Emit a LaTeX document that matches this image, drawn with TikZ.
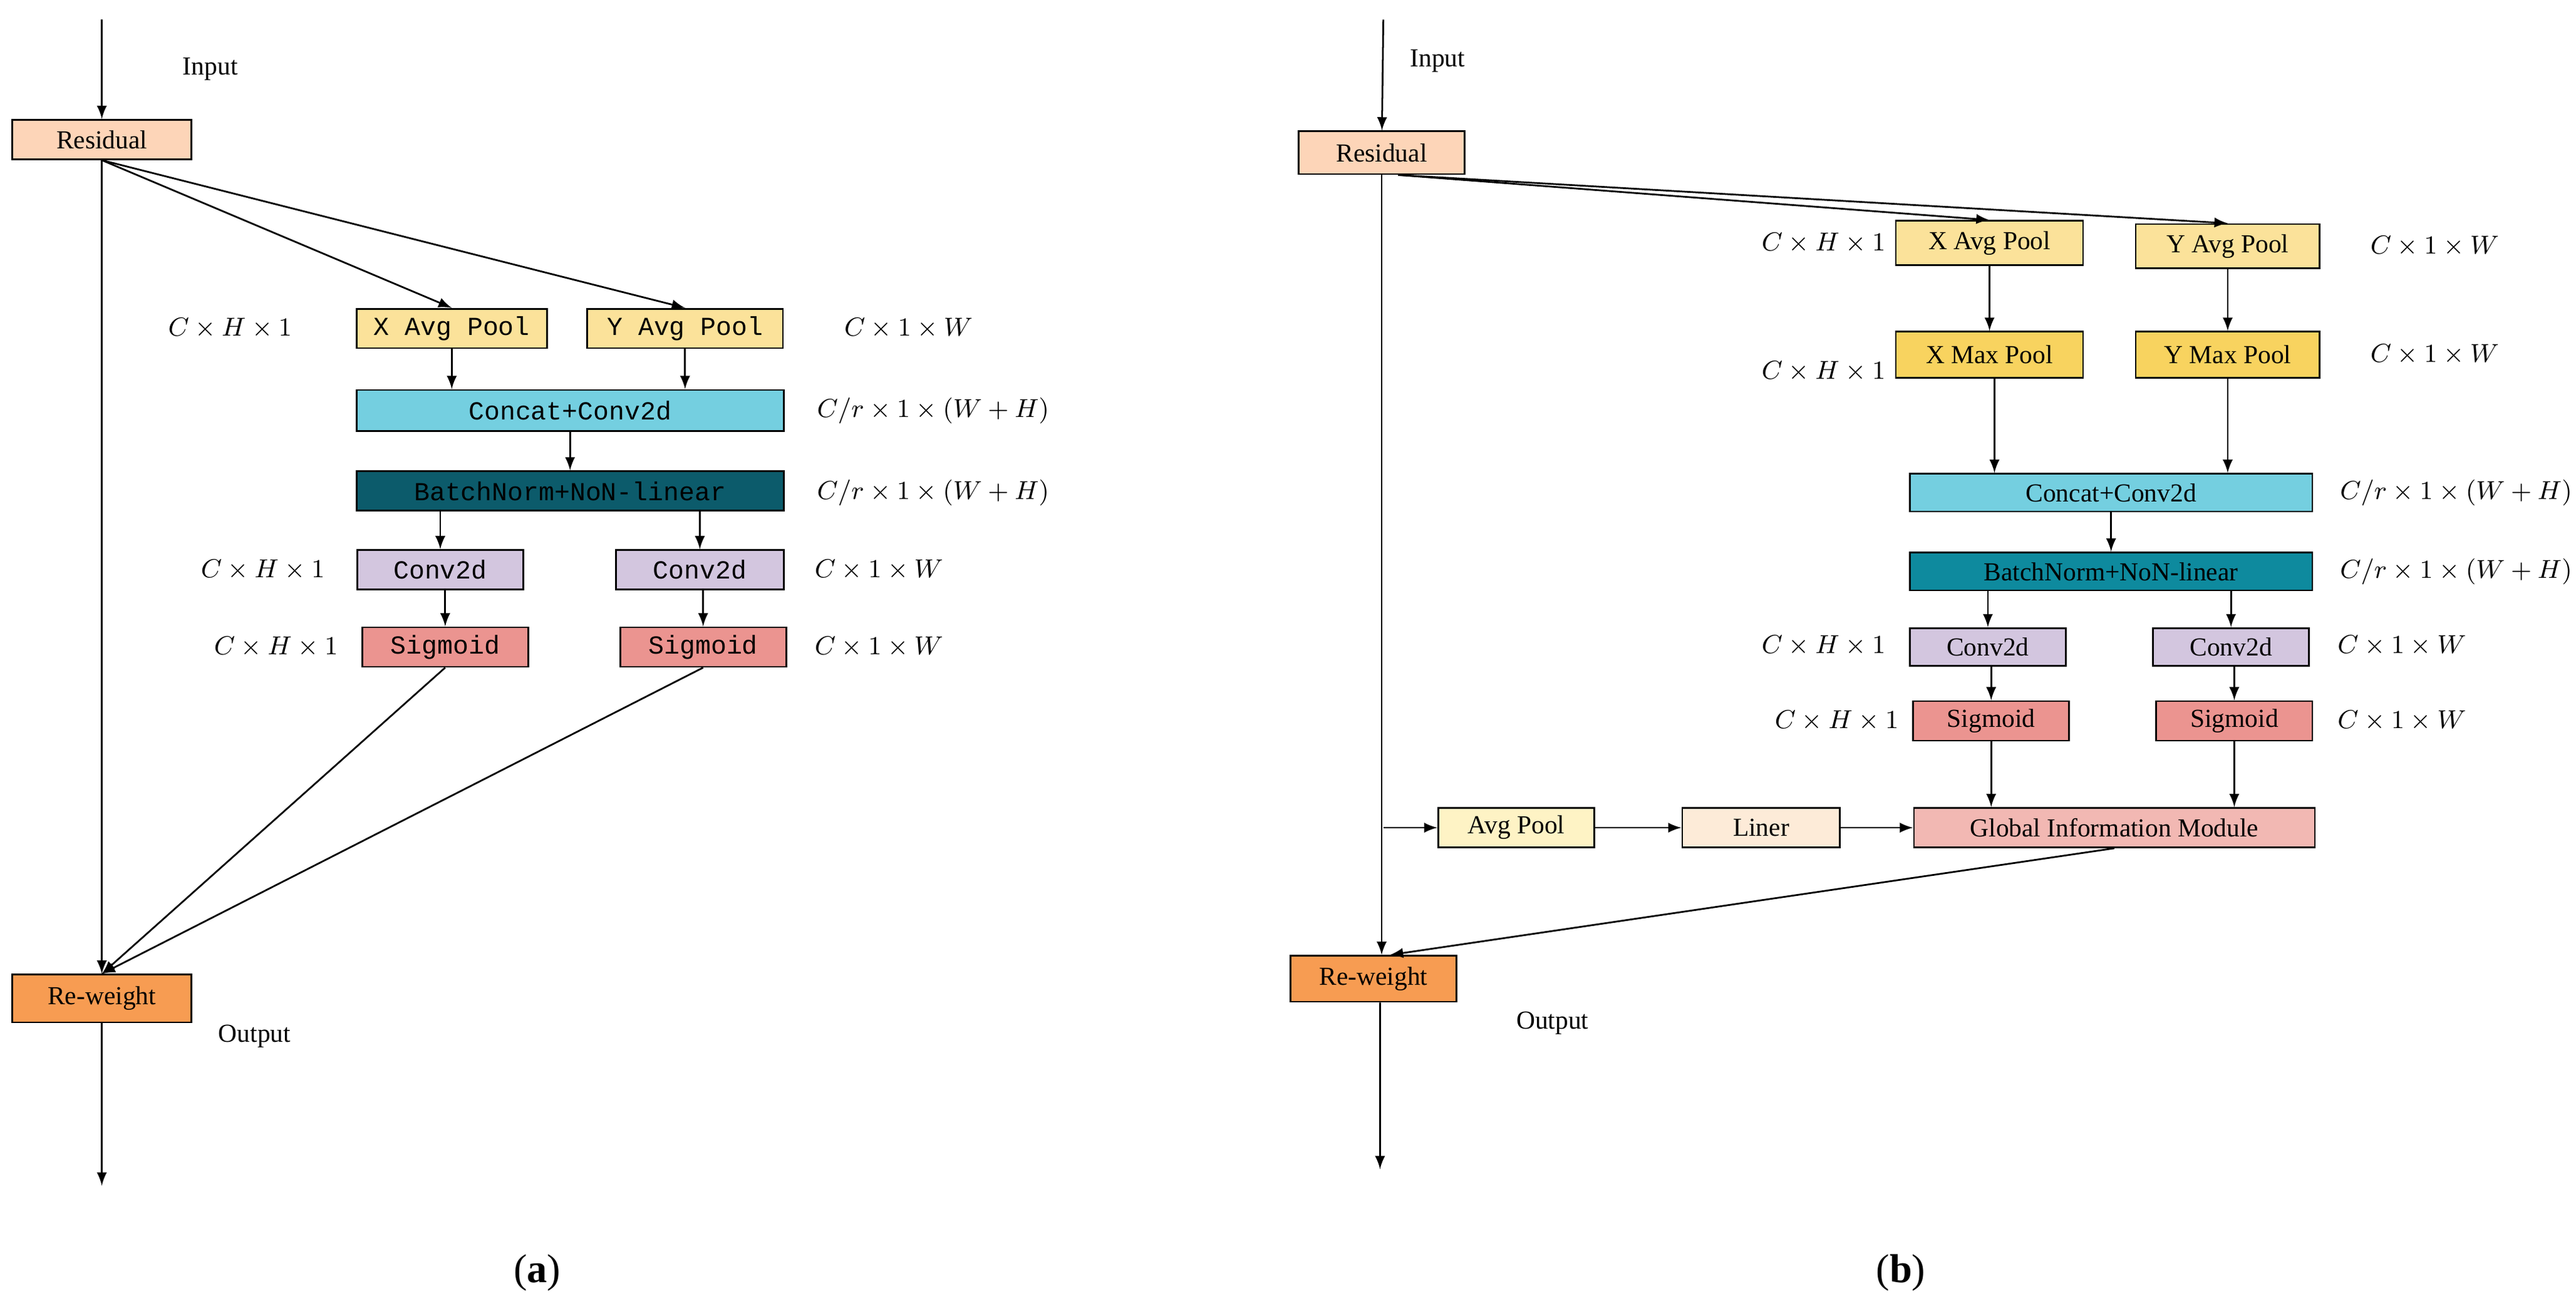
\documentclass[tikz,border=0pt]{standalone}
\usepackage{fontspec}
\setmainfont{Liberation Serif}
\newfontfamily\monof{Liberation Mono}
\begin{document}
\begin{tikzpicture}[x=0.02cm,y=-0.02cm,
 box/.style={draw=black,line width=0.6pt,minimum height=0.48cm,inner sep=1pt,font=\fontsize{9}{10}\selectfont},
 mono/.style={font=\monof\fontsize{9}{10}\selectfont},
 lab/.style={font=\fontsize{9}{10}\selectfont},
 arr/.style={-latex,line width=0.6pt},
 ln/.style={line width=0.6pt}]
\useasboundingbox (0,0) rectangle (1568,801);
\definecolor{res}{HTML}{FDD5B8}
\definecolor{avg}{HTML}{FBE29A}
\definecolor{maxp}{HTML}{F8D35F}
\definecolor{cat}{HTML}{74CFE0}
\definecolor{bna}{HTML}{0C5B6B}
\definecolor{bnb}{HTML}{0E8A9E}
\definecolor{cv}{HTML}{D3C6DF}
\definecolor{sg}{HTML}{EB9490}
\definecolor{rw}{HTML}{F79C52}
\definecolor{gim}{HTML}{F2B8B3}
\definecolor{ap}{HTML}{FEF3C5}
\definecolor{lr}{HTML}{FDEBD8}
% ---------- panel a
\coordinate (ai) at (62,12);
\node[box,fill=res,minimum width=2.18cm] (ares) at (62,85) {Residual};
\node[lab] (ainl) at (128,42) {Input};
\draw[arr] (ai) -- (ares);
\node[box,mono,fill=avg,minimum width=2.32cm] (ax) at (275,200) {X Avg Pool};
\node[box,mono,fill=avg,minimum width=2.38cm] (ay) at (417,200) {Y Avg Pool};
\node[box,mono,fill=cat,minimum width=5.2cm,minimum height=0.5cm] (acat) at (347,250) {Concat+Conv2d};
\node[box,mono,fill=bna,minimum width=5.2cm,minimum height=0.48cm] (abn) at (347,299) {BatchNorm+NoN-linear};
\node[box,mono,fill=cv,minimum width=2.02cm] (acl) at (268,347) {Conv2d};
\node[box,mono,fill=cv,minimum width=2.04cm] (acr) at (426,347) {Conv2d};
\node[box,mono,fill=sg,minimum width=2.02cm] (asl) at (271,394) {Sigmoid};
\node[box,mono,fill=sg,minimum width=2.02cm] (asr) at (428,394) {Sigmoid};
\node[box,fill=rw,minimum width=2.18cm,minimum height=0.58cm] (arw) at (62,608) {Re-weight};
\coordinate (aout) at (62,722);
\node[lab] at (155,631) {Output};
\node[lab] at (140,200) {$C\times H\times 1$};
\node[lab] at (553,200) {$C\times 1\times W$};
\node[lab] at (568,250) {$C/r\times 1\times (W+H)$};
\node[lab] at (568,300) {$C/r\times 1\times (W+H)$};
\node[lab] at (160,347) {$C\times H\times 1$};
\node[lab] at (535,347) {$C\times 1\times W$};
\node[lab] at (168,394) {$C\times H\times 1$};
\node[lab] at (535,394) {$C\times 1\times W$};
\draw[arr] (ares.south) -- (arw.north);
\draw[arr] (ares.south) -- (ax.north);
\draw[arr] (ares.south) -- (ay.north);
\draw[arr] (ax.south) -- (ax.south|-acat.north);
\draw[arr] (ay.south) -- (ay.south|-acat.north);
\draw[arr] (acat) -- (abn);
\draw[arr] (acl|-abn.south) -- (acl.north);
\draw[arr] (acr|-abn.south) -- (acr.north);
\draw[arr] (asl|-acl.south) -- (asl.north);
\draw[arr] (asr|-acr.south) -- (asr.north);
\draw[arr] (asl.south) -- (arw.north);
\draw[arr] (asr.south) -- (arw.north);
\draw[arr] (arw) -- (aout);
\node[font=\fontsize{14}{16}\selectfont] at (327,775) {(\textbf{a})};
% ---------- panel b
\coordinate (bi) at (842,12);
\node[box,fill=res,minimum width=2.02cm,minimum height=0.52cm] (bres) at (841,93) {Residual};
\node[lab] at (875,37) {Input};
\draw[arr] (bi) -- (bres);
\node[box,fill=avg,minimum width=2.28cm,minimum height=0.54cm] (bx) at (1211,148) {X Avg Pool};
\node[box,fill=avg,minimum width=2.24cm,minimum height=0.54cm] (by) at (1356,150) {Y Avg Pool};
\node[box,fill=maxp,minimum width=2.28cm,minimum height=0.56cm] (bmx) at (1211,216) {X Max Pool};
\node[box,fill=maxp,minimum width=2.24cm,minimum height=0.56cm] (bmy) at (1356,216) {Y Max Pool};
\node[box,fill=cat,minimum width=4.9cm,minimum height=0.46cm] (bcat) at (1285,300) {Concat+Conv2d};
\node[box,fill=bnb,minimum width=4.9cm,minimum height=0.46cm] (bbn) at (1285,348) {BatchNorm+NoN-linear};
\node[box,fill=cv,minimum width=1.9cm,minimum height=0.46cm] (bcl) at (1210,394) {Conv2d};
\node[box,fill=cv,minimum width=1.9cm,minimum height=0.46cm] (bcr) at (1358,394) {Conv2d};
\node[box,fill=sg,minimum width=1.9cm,minimum height=0.48cm] (bsl) at (1212,439) {Sigmoid};
\node[box,fill=sg,minimum width=1.9cm,minimum height=0.48cm] (bsr) at (1360,439) {Sigmoid};
\node[box,fill=gim,minimum width=4.88cm,minimum height=0.48cm] (bgim) at (1287,504) {Global Information Module};
\node[box,fill=ap,minimum width=1.9cm,minimum height=0.48cm] (bap) at (923,504) {Avg Pool};
\node[box,fill=lr,minimum width=1.92cm,minimum height=0.48cm] (blr) at (1072,504) {Liner};
\node[box,fill=rw,minimum width=2.02cm,minimum height=0.56cm] (brw) at (836,596) {Re-weight};
\coordinate (bout) at (840,712);
\coordinate (bsplit) at (842,504);
\node[lab] at (945,623) {Output};
\node[lab] at (1110,148) {$C\times H\times 1$};
\node[lab] at (1482,150) {$C\times 1\times W$};
\node[lab] at (1110,226) {$C\times H\times 1$};
\node[lab] at (1482,216) {$C\times 1\times W$};
\node[lab] at (1495,300) {$C/r\times 1\times (W+H)$};
\node[lab] at (1495,348) {$C/r\times 1\times (W+H)$};
\node[lab] at (1110,393) {$C\times H\times 1$};
\node[lab] at (1462,393) {$C\times 1\times W$};
\node[lab] at (1118,439) {$C\times H\times 1$};
\node[lab] at (1462,439) {$C\times 1\times W$};
\draw[arr] (bres.south) -- (bres.south|-brw.north);
\draw[arr] ([xshift=0.2cm]bres.south) -- (bx.north);
\draw[arr] ([xshift=0.2cm]bres.south) -- (by.north);
\draw[arr] (bx) -- (bmx);
\draw[arr] (by) -- (bmy);
\draw[arr] ([xshift=0.06cm]bmx.south) -- ([xshift=0.06cm]bmx.south|-bcat.north);
\draw[arr] (bmy.south) -- (bmy.south|-bcat.north);
\draw[arr] (bcat) -- (bbn);
\draw[arr] (bcl|-bbn.south) -- (bcl.north);
\draw[arr] (bcr|-bbn.south) -- (bcr.north);
\draw[arr] (bsl|-bcl.south) -- (bsl.north);
\draw[arr] (bsr|-bcr.south) -- (bsr.north);
\draw[arr] (bsl.south) -- (bsl.south|-bgim.north);
\draw[arr] (bsr.south) -- (bsr.south|-bgim.north);
\draw[arr] (bsplit) -- (bap);
\draw[arr] (bap) -- (blr);
\draw[arr] (blr) -- (bgim);
\draw[arr] (bgim.south) -- ([xshift=0.2cm]brw.north);
\draw[arr] ([xshift=0.08cm]brw.south) -- (bout);
\node[font=\fontsize{14}{16}\selectfont] at (1157,775) {(\textbf{b})};
\end{tikzpicture}
\end{document}
